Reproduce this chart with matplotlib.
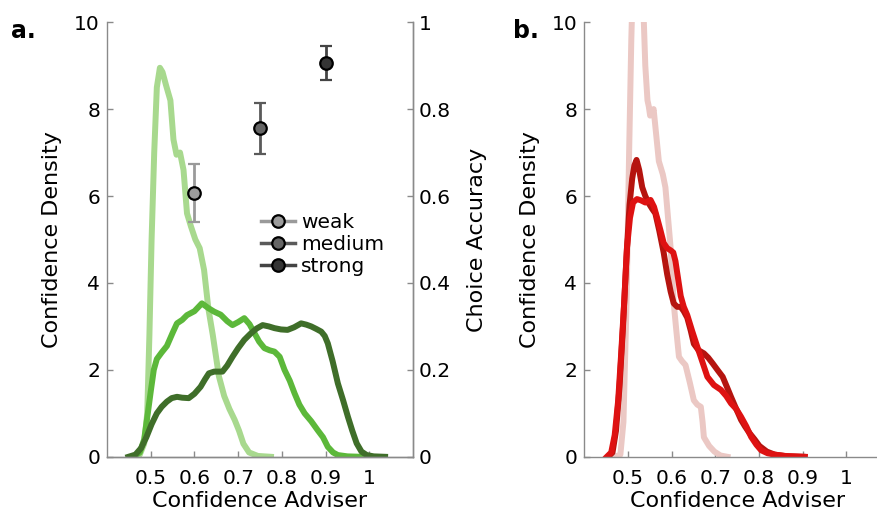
import matplotlib
matplotlib.use('Agg')
import matplotlib.pyplot as plt
from matplotlib.lines import Line2D

plt.rcParams['font.family'] = 'DejaVu Sans'

# panel a: confidence density per adviser strength
weak_x = [0.46, 0.475, 0.485, 0.492, 0.497, 0.502, 0.508, 0.514, 0.521, 0.527, 0.535,
          0.545, 0.552, 0.559, 0.567, 0.575, 0.583, 0.592, 0.602, 0.612, 0.622, 0.632,
          0.642, 0.656, 0.668, 0.68, 0.692, 0.702, 0.712, 0.725, 0.745, 0.775]
weak_y = [0.0, 0.05, 0.3, 1.0, 2.8, 5.0, 7.0, 8.5, 8.95, 8.85, 8.55,
          8.2, 7.3, 6.95, 7.0, 6.6, 5.6, 5.3, 5.0, 4.8, 4.3, 3.4,
          2.8, 1.85, 1.4, 1.1, 0.85, 0.6, 0.3, 0.1, 0.02, 0.0]

medium_x = [0.46, 0.475, 0.485, 0.492, 0.5, 0.507, 0.514, 0.525, 0.537, 0.55, 0.56,
            0.572, 0.583, 0.6, 0.617, 0.632, 0.645, 0.66, 0.675, 0.687, 0.7, 0.714,
            0.726, 0.737, 0.748, 0.76, 0.772, 0.783, 0.795, 0.806, 0.818, 0.829, 0.84,
            0.852, 0.867, 0.882, 0.894, 0.905, 0.917, 0.928, 0.95, 0.982]
medium_y = [0.0, 0.1, 0.4, 0.9, 1.5, 2.0, 2.25, 2.4, 2.55, 2.85, 3.07,
            3.15, 3.26, 3.35, 3.53, 3.42, 3.34, 3.27, 3.12, 3.03, 3.1, 3.19,
            3.05, 2.85, 2.65, 2.5, 2.45, 2.42, 2.3, 2.0, 1.75, 1.46, 1.2,
            1.0, 0.82, 0.61, 0.45, 0.23, 0.1, 0.04, 0.01, 0.0]

strong_x = [0.449, 0.465, 0.478, 0.49, 0.502, 0.514, 0.525, 0.537, 0.548, 0.56, 0.572,
            0.587, 0.6, 0.614, 0.624, 0.633, 0.645, 0.664, 0.675, 0.687, 0.7, 0.714,
            0.728, 0.742, 0.756, 0.77, 0.783, 0.798, 0.813, 0.828, 0.844, 0.856, 0.867,
            0.879, 0.89, 0.898, 0.905, 0.916, 0.928, 0.94, 0.951, 0.961, 0.971, 0.982,
            0.994, 1.01, 1.036]
strong_y = [0.0, 0.05, 0.2, 0.45, 0.75, 1.0, 1.15, 1.27, 1.35, 1.38, 1.36,
            1.35, 1.45, 1.61, 1.78, 1.92, 1.96, 1.96, 2.1, 2.3, 2.5, 2.69,
            2.83, 2.95, 3.03, 3.0, 2.96, 2.93, 2.92, 2.98, 3.07, 3.04, 3.0,
            2.94, 2.88, 2.78, 2.61, 2.2, 1.69, 1.3, 0.92, 0.6, 0.31, 0.12,
            0.04, 0.01, 0.0]

# choice accuracy per adviser strength (right axis)
acc_x = [0.6, 0.75, 0.9]
acc_y = [0.606, 0.756, 0.906]
acc_lo = [0.541, 0.696, 0.866]
acc_hi = [0.674, 0.814, 0.946]
acc_labels = ['weak', 'medium', 'strong']

# panel b
pale_x = [0.47, 0.483, 0.49, 0.497, 0.503, 0.508, 0.514, 0.521, 0.528, 0.535, 0.54,
          0.545, 0.548, 0.551, 0.555, 0.559, 0.565, 0.571, 0.58, 0.586, 0.592, 0.598,
          0.605, 0.611, 0.617, 0.624, 0.632, 0.642, 0.651, 0.659, 0.667, 0.671, 0.674,
          0.686, 0.698, 0.712, 0.728]
pale_y = [0.0, 0.05, 0.8, 3.5, 7.0, 9.6, 11.8, 12.5, 12.0, 10.5, 9.0,
          8.2, 8.06, 7.85, 7.9, 8.0, 7.4, 6.8, 6.5, 6.2, 5.5, 4.8,
          3.53, 2.9, 2.3, 2.2, 2.11, 1.7, 1.3, 1.2, 1.15, 0.8, 0.45,
          0.25, 0.12, 0.03, 0.0]

mid_red_x = [0.452, 0.462, 0.47, 0.478, 0.485, 0.492, 0.498, 0.505, 0.512, 0.521,
             0.53, 0.54, 0.552, 0.56, 0.567, 0.575, 0.582, 0.59, 0.598, 0.604, 0.609,
             0.615, 0.621, 0.628, 0.636, 0.647, 0.659, 0.67, 0.682, 0.697, 0.713,
             0.725, 0.736, 0.748, 0.759, 0.771, 0.782, 0.794, 0.805, 0.82, 0.836,
             0.86, 0.905]
mid_red_y = [0.0, 0.1, 0.5, 1.3, 2.4, 3.6, 4.8, 5.5, 5.85, 5.93,
             5.9, 5.85, 5.91, 5.75, 5.5, 5.2, 4.92, 4.8, 4.75, 4.7, 4.5,
             4.1, 3.7, 3.45, 3.26, 2.9, 2.53, 2.2, 1.84, 1.65, 1.54,
             1.4, 1.23, 1.1, 0.92, 0.7, 0.46, 0.28, 0.15, 0.08, 0.05,
             0.02, 0.0]

dark_red_x = [0.455, 0.465, 0.473, 0.481, 0.489, 0.497, 0.504, 0.51, 0.515, 0.52,
              0.526, 0.533, 0.54, 0.548, 0.556, 0.563, 0.572, 0.582, 0.59, 0.598,
              0.605, 0.613, 0.621, 0.628, 0.636, 0.644, 0.651, 0.662, 0.674, 0.684,
              0.694, 0.705, 0.717, 0.727, 0.736, 0.748, 0.759, 0.768, 0.778, 0.79,
              0.801, 0.818, 0.836, 0.865, 0.9]
dark_red_y = [0.0, 0.1, 0.6, 1.6, 3.0, 4.6, 5.8, 6.4, 6.7, 6.83,
              6.6, 6.2, 6.0, 5.83, 5.7, 5.6, 5.2, 4.7, 4.2, 3.8,
              3.53, 3.45, 3.45, 3.35, 3.2, 2.9, 2.6, 2.45, 2.38, 2.28,
              2.15, 2.0, 1.84, 1.6, 1.38, 1.1, 0.85, 0.7, 0.55, 0.4,
              0.25, 0.12, 0.05, 0.01, 0.0]

TICK_FS = 14.5
LABEL_FS = 16
SPINE_COL = '#8a8a8a'
LW = 4.3

fig = plt.figure(figsize=(8.77, 5.15), dpi=100)


def style_axis(ax, right=False):
    for side in ['top', 'right', 'left', 'bottom']:
        ax.spines[side].set_color(SPINE_COL)
        ax.spines[side].set_linewidth(1.0)
    ax.spines['top'].set_visible(False)
    if not right:
        ax.spines['right'].set_visible(False)
    ax.tick_params(direction='in', length=4, width=1, color=SPINE_COL,
                   labelsize=TICK_FS, labelcolor='black')
    ax.tick_params(axis='x', pad=9)
    ax.tick_params(axis='y', pad=5)


def density_axis(ax):
    ax.set_xlim(0.4, 1.1)
    ax.set_ylim(0, 10)
    ax.set_xticks([0.5, 0.6, 0.7, 0.8, 0.9, 1.0])
    ax.set_xticklabels(['0.5', '0.6', '0.7', '0.8', '0.9', '1'])
    ax.set_yticks([0, 2, 4, 6, 8, 10])
    ax.set_xlabel('Confidence Adviser', fontsize=LABEL_FS)
    ax.set_ylabel('Confidence Density', fontsize=LABEL_FS)
    ax.xaxis.set_label_coords(0.5, -0.078)
    ax.yaxis.set_label_coords(-0.147, 0.5)


# ---- panel a ----
ax = fig.add_axes([0.122, 0.113, 0.349, 0.844])
style_axis(ax, right=True)
density_axis(ax)
ax.plot(weak_x, weak_y, color='#a8d98e', lw=LW)
ax.plot(medium_x, medium_y, color='#5cb83a', lw=LW)
ax.plot(strong_x, strong_y, color='#3f6e29', lw=LW)

ax2 = ax.twinx()
ax2.set_position(ax.get_position())
style_axis(ax2, right=True)
ax2.spines['left'].set_visible(False)
ax2.tick_params(axis='y', pad=4)
ax2.set_ylim(0, 1)
ax2.set_yticks([0, 0.2, 0.4, 0.6, 0.8, 1.0])
ax2.set_yticklabels(['0', '0.2', '0.4', '0.6', '0.8', '1'])
ax2.set_ylabel('Choice Accuracy', fontsize=LABEL_FS)
ax2.yaxis.set_label_coords(1.176, 0.5)

err_cols = ['#9a9a9a', '#5a5a5a', '#444444']
fill_cols = ['#9c9c9c', '#666666', '#353535']
handles = []
for i in range(3):
    lo = acc_y[i] - acc_lo[i]
    hi = acc_hi[i] - acc_y[i]
    ax2.errorbar([acc_x[i]], [acc_y[i]], yerr=[[lo], [hi]], fmt='o',
                 color=err_cols[i], ecolor=err_cols[i], elinewidth=2, capsize=4,
                 capthick=2, markersize=9, markerfacecolor=fill_cols[i],
                 markeredgecolor='black', markeredgewidth=1.6)
    handles.append(Line2D([0], [0], color=err_cols[i], lw=2.5, marker='o',
                          markersize=9, markerfacecolor=fill_cols[i],
                          markeredgecolor='black', markeredgewidth=1.6))
ax2.legend(handles, acc_labels, loc='upper left', bbox_to_anchor=(0.503, 0.56),
           frameon=False, fontsize=TICK_FS, handlelength=1.7, handletextpad=0.3,
           labelspacing=0.15, borderpad=0, borderaxespad=0)

# ---- panel b ----
bx = fig.add_axes([0.666, 0.113, 0.349, 0.844])
style_axis(bx)
density_axis(bx)
bx.yaxis.set_label_coords(-0.144, 0.5)
bx.plot(pale_x, pale_y, color='#ebc8c4', lw=LW)
bx.plot(dark_red_x, dark_red_y, color='#b5140f', lw=LW)
bx.plot(mid_red_x, mid_red_y, color='#de1212', lw=LW)

fig.text(0.013, 0.94, 'a.', fontsize=17, fontweight='bold', va='center')
fig.text(0.585, 0.94, 'b.', fontsize=17, fontweight='bold', va='center')

fig.savefig('out.png', dpi=100)
